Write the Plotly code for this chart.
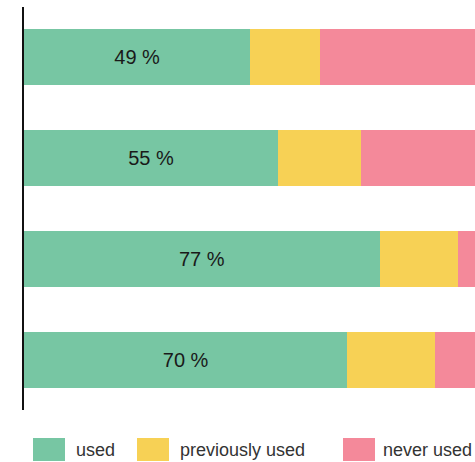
import plotly.graph_objects as go

categories = ["Group 1", "Group 2", "Group 3", "Group 4"]
series_names = ["used", "previously used", "never used"]
used = [49, 55, 77, 70]
previously_used = [15, 18, 17, 19]
never_used = [36, 27, 6, 11]
colors = ["#77C6A3", "#F7D155", "#F4899A"]

W, H = 475, 462
ML, MR, MT, MB = 24, 0, 7, 52
PW, PH = W - ML - MR, H - MT - MB

fig = go.Figure()
values = [used, previously_used, never_used]
for i, (name, vals) in enumerate(zip(series_names, values)):
    fig.add_trace(go.Bar(
        y=categories, x=vals, name=name, orientation="h",
        marker=dict(color=colors[i], line=dict(width=0)),
        text=[f"{v} %" for v in vals] if i == 0 else None,
        textposition="inside" if i == 0 else "none",
        insidetextanchor="middle", textangle=0,
        insidetextfont=dict(size=20, color="#1a1a1a",
                            family="Liberation Sans, Arial, sans-serif"),
        showlegend=False,
    ))

# custom legend with wide swatches
def px_x(px):
    return (px - ML) / PW

def px_y(py):
    return (H - MB - py) / PH

swatch_left = [33, 137, 343]
text_left = [74, 178, 381]
shapes, annotations = [], []
for i, name in enumerate(series_names):
    shapes.append(dict(type="rect", xref="paper", yref="paper",
                       x0=px_x(swatch_left[i]), x1=px_x(swatch_left[i] + 32),
                       y0=px_y(461), y1=px_y(438),
                       fillcolor=colors[i], line=dict(width=0)))
    annotations.append(dict(xref="paper", yref="paper",
                            x=px_x(text_left[i]), y=px_y(450),
                            xanchor="left", yanchor="middle",
                            text=name, showarrow=False,
                            font=dict(size=18, color="#333333",
                                      family="Liberation Sans, Arial, sans-serif")))

fig.update_layout(
    barmode="stack", bargap=0.445,
    width=W, height=H,
    margin=dict(l=ML, r=MR, t=MT, b=MB, pad=0),
    paper_bgcolor="white", plot_bgcolor="white",
    xaxis=dict(range=[0, PW / 4.62], showgrid=False, zeroline=False,
               showticklabels=False, showline=False, fixedrange=True),
    yaxis=dict(autorange="reversed", showgrid=False, zeroline=False,
               showticklabels=False, showline=True, linecolor="#111111",
               linewidth=1.5, ticks=""),
    shapes=shapes, annotations=annotations,
    uniformtext=dict(mode=False),
)

fig.write_html("out.html", config={"displayModeBar": False},
               post_script="document.body.style.margin='0';document.body.style.padding='0';document.body.style.overflow='hidden';")
